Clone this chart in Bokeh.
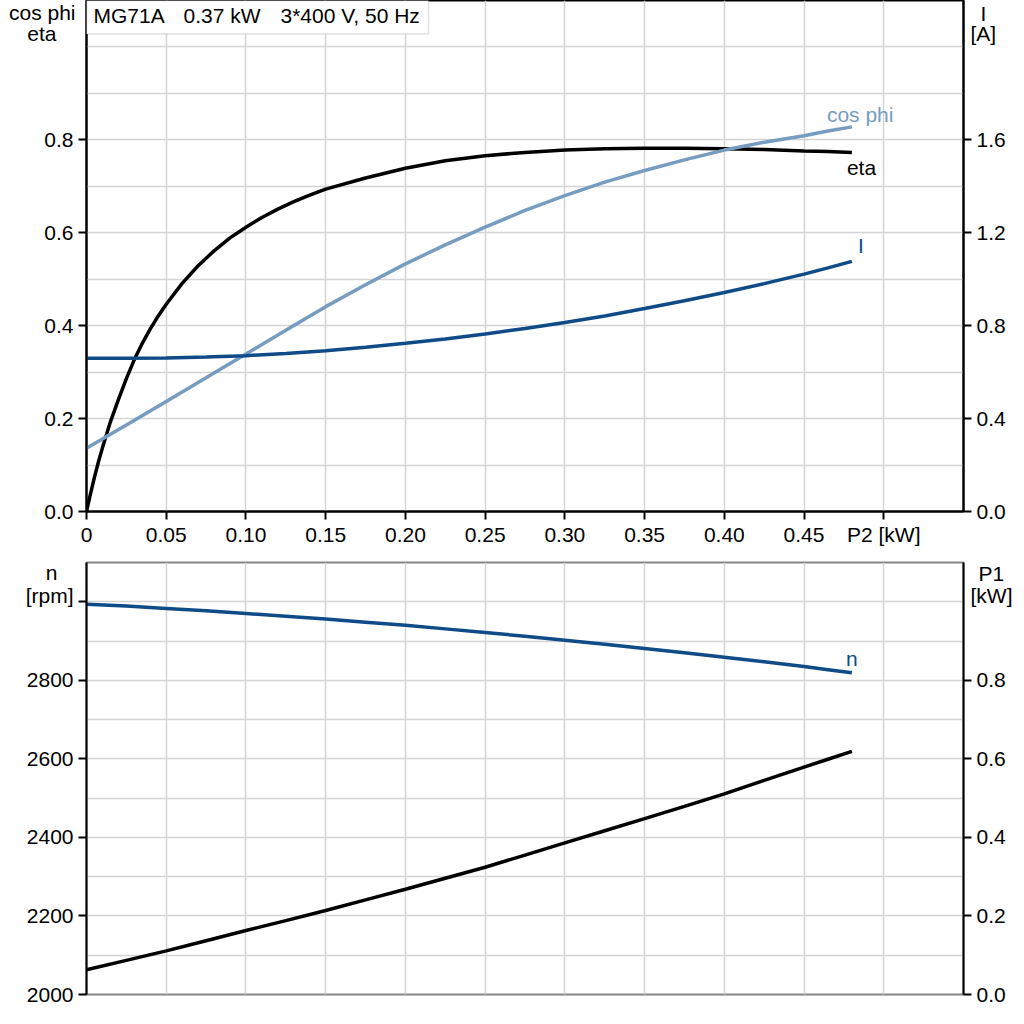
from bokeh.plotting import figure
from bokeh.layouts import column
from bokeh.models import Range1d, LinearAxis, FixedTicker, Label, BoxAnnotation, PrintfTickFormatter
from bokeh.embed import file_html
from bokeh.resources import INLINE

# efficiency, read densely because it bends sharply near zero load
p2_eta = [0, 0.0025, 0.005, 0.0075, 0.01, 0.015, 0.02, 0.025, 0.03, 0.035, 0.04, 0.045,
          0.05, 0.06, 0.07, 0.08, 0.09, 0.1, 0.11, 0.12, 0.13, 0.14, 0.15, 0.175,
          0.2, 0.225, 0.25, 0.275, 0.3, 0.325, 0.35, 0.375, 0.4, 0.425, 0.45, 0.465, 0.48]
eta = [0, 0.038, 0.074, 0.107, 0.137, 0.193, 0.241, 0.286, 0.327, 0.362, 0.393, 0.421,
       0.446, 0.491, 0.529, 0.561, 0.589, 0.612, 0.633, 0.651, 0.667, 0.681, 0.694, 0.718,
       0.739, 0.755, 0.766, 0.773, 0.778, 0.781, 0.782, 0.782, 0.781, 0.779, 0.776, 0.775, 0.773]

# the other curves, read every 0.025 kW
p2_kw = [0, 0.025, 0.05, 0.075, 0.1, 0.125, 0.15, 0.175, 0.2, 0.225, 0.25, 0.275,
         0.3, 0.325, 0.35, 0.375, 0.4, 0.425, 0.45, 0.465, 0.48]
cos_phi = [0.136, 0.186, 0.237, 0.288, 0.339, 0.39, 0.441, 0.488, 0.533, 0.574, 0.612, 0.648,
           0.68, 0.709, 0.734, 0.757, 0.778, 0.795, 0.809, 0.819, 0.828]
current_a = [0.66, 0.66, 0.661, 0.665, 0.671, 0.68, 0.692, 0.707, 0.724, 0.743, 0.764, 0.788,
             0.814, 0.842, 0.874, 0.907, 0.943, 0.981, 1.022, 1.049, 1.077]
speed_rpm = [2994, 2989, 2983, 2977, 2970, 2963, 2956, 2948, 2940, 2931, 2922, 2912,
             2902, 2892, 2881, 2870, 2859, 2847, 2835, 2827, 2819]
p1_kw = [0.063, 0.087, 0.111, 0.137, 0.163, 0.188, 0.214, 0.241, 0.268, 0.296, 0.324, 0.355,
         0.386, 0.417, 0.448, 0.479, 0.511, 0.545, 0.579, 0.599, 0.619]

x_ticks = [0, 0.05, 0.1, 0.15, 0.2, 0.25, 0.3, 0.35, 0.4, 0.45, 0.5]
x_tick_labels = ["0", "0.05", "0.10", "0.15", "0.20", "0.25", "0.30", "0.35", "0.40", "0.45", "P2 [kW]"]
eta_ticks = [0, 0.2, 0.4, 0.6, 0.8]
i_ticks = [0, 0.4, 0.8, 1.2, 1.6]
n_ticks = [2000, 2200, 2400, 2600, 2800, 3000]
p1_ticks = [0, 0.2, 0.4, 0.6, 0.8]

title_parts = ["MG71A", "0.37 kW", "3*400 V, 50 Hz"]

FONT = "Liberation Sans"
FS = "21px"
BLACK = "#000000"
LIGHT = "#769cc0"
DARK = "#0f4b87"
GRID = "#d2d4d6"


def style_axis(ax):
    ax.axis_line_color = BLACK
    ax.axis_line_width = 2
    ax.major_tick_line_color = BLACK
    ax.major_tick_line_width = 2
    ax.major_tick_out = 8
    ax.major_tick_in = 0
    ax.minor_tick_line_color = None
    ax.major_label_text_font = FONT
    ax.major_label_text_font_size = FS
    ax.major_label_text_color = BLACK
    ax.major_label_standoff = 5


def make_label(txt, x, y, color=BLACK, align="center", units="canvas", **kw):
    return Label(x=x, y=y, x_units=units, y_units=units, text=txt, text_font=FONT,
                 text_font_size=FS, text_color=color, text_align=align,
                 text_baseline="alphabetic", **kw)


def caption(fig, side, standoff, at_y, texts):
    # a bare axis stacked beside the real one, used only for its labels
    ax = LinearAxis(ticker=FixedTicker(ticks=at_y),
                    major_label_overrides=dict(zip(at_y, texts)))
    style_axis(ax)
    ax.axis_line_color = None
    ax.major_tick_line_color = None
    ax.major_tick_out = 0
    ax.major_label_standoff = standoff
    fig.add_layout(ax, side)


# ---------- top: cos phi / eta / I ----------
p = figure(frame_width=877, frame_height=511, min_border_left=86, min_border_right=61,
           min_border_top=0, min_border_bottom=40, title=None,
           x_range=Range1d(0, 0.55), y_range=Range1d(0, 1.1),
           output_backend="svg", toolbar_location=None)
p.extra_y_ranges = {"i": Range1d(0, 2.2)}
p.background_fill_color = "white"
p.border_fill_color = "white"
p.outline_line_color = BLACK
p.outline_line_width = 2

p.xaxis.ticker = FixedTicker(ticks=x_ticks)
p.xaxis.major_label_overrides = dict(zip(x_ticks, x_tick_labels))
p.yaxis.ticker = FixedTicker(ticks=eta_ticks)
p.yaxis.formatter = PrintfTickFormatter(format="%.1f")
ax_i = LinearAxis(y_range_name="i", ticker=FixedTicker(ticks=i_ticks),
                  formatter=PrintfTickFormatter(format="%.1f"))
p.add_layout(ax_i, "right")
for ax in [p.xaxis[0], p.yaxis[0], ax_i]:
    style_axis(ax)
p.xaxis.major_label_standoff = 3

p.xgrid.ticker = FixedTicker(ticks=x_ticks[1:])
p.ygrid.ticker = FixedTicker(ticks=[0.1, 0.2, 0.3, 0.4, 0.5, 0.6, 0.7, 0.8, 0.9, 1.0])
p.grid.grid_line_color = GRID
p.grid.grid_line_width = 1.5

p.line(p2_eta, eta, line_color=BLACK, line_width=3.5)
p.line(p2_kw, cos_phi, line_color=LIGHT, line_width=3.5)
p.line(p2_kw, current_a, line_color=DARK, line_width=3.5, y_range_name="i")

p.add_layout(make_label("cos phi", p2_kw[-1], cos_phi[-1], color=LIGHT, align="left",
                        units="data", x_offset=-25, y_offset=12))
p.add_layout(make_label("eta", p2_eta[-1], eta[-1], align="left", units="data",
                        x_offset=-5, y_offset=-15))
p.add_layout(Label(x=p2_kw[-1], y=current_a[-1], y_range_name="i", text="I", text_font=FONT,
                   text_font_size=FS, text_color=DARK, text_align="left",
                   text_baseline="alphabetic", x_offset=6, y_offset=16))

# spec box in the top-left corner
p.add_layout(BoxAnnotation(left=0, right=0.2145, bottom=1.028, top=1.1,
                           fill_color="white", fill_alpha=1.0,
                           line_color="#9a9a9a", line_width=1.5))
for part, left in zip(title_parts, [93, 183, 280]):
    p.add_layout(make_label(part, left, 15, align="left"))

# axis captions beside the frame
caption(p, "left", -15, [1.029], ["eta"])
caption(p, "left", -51, [1.0763], ["cos phi"])
caption(p, "right", -38, [1.029], ["[A]"])
caption(p, "right", -28, [1.0785], ["I"])

# ---------- bottom: n / P1 ----------
q = figure(frame_width=877, frame_height=432, min_border_left=86, min_border_right=61,
           min_border_top=11, min_border_bottom=14, title=None,
           x_range=p.x_range, y_range=Range1d(2000, 3100), x_axis_location=None,
           output_backend="svg", toolbar_location=None)
q.extra_y_ranges = {"p1": Range1d(0, 1.1)}
q.background_fill_color = "white"
q.border_fill_color = "white"
q.outline_line_color = "#858585"
q.outline_line_width = 2

q.yaxis.ticker = FixedTicker(ticks=n_ticks)
q.yaxis.major_label_overrides = {3000: ""}
ax_p1 = LinearAxis(y_range_name="p1", ticker=FixedTicker(ticks=p1_ticks),
                   formatter=PrintfTickFormatter(format="%.1f"))
q.add_layout(ax_p1, "right")
for ax in [q.yaxis[0], ax_p1]:
    style_axis(ax)

q.xgrid.ticker = FixedTicker(ticks=x_ticks[1:])
q.ygrid.ticker = FixedTicker(ticks=[2100, 2200, 2300, 2400, 2500, 2600, 2700, 2800, 2900, 3000])
q.grid.grid_line_color = GRID
q.grid.grid_line_width = 1.5

q.line(p2_kw, speed_rpm, line_color=DARK, line_width=3.5)
q.line(p2_kw, p1_kw, line_color=BLACK, line_width=3.5, y_range_name="p1")

q.add_layout(make_label("n", p2_kw[-1], speed_rpm[-1], color=DARK, align="left", units="data",
                        x_offset=-6, y_offset=14))
caption(q, "left", -50, [3014.7], ["[rpm]"])
caption(q, "left", -35, [3073.3], ["n"])
caption(q, "right", -30, [3073], ["P1"])
caption(q, "right", -38, [3015], ["[kW]"])

layout = column(p, q)
open("out.html", "w").write(file_html(layout, INLINE))
